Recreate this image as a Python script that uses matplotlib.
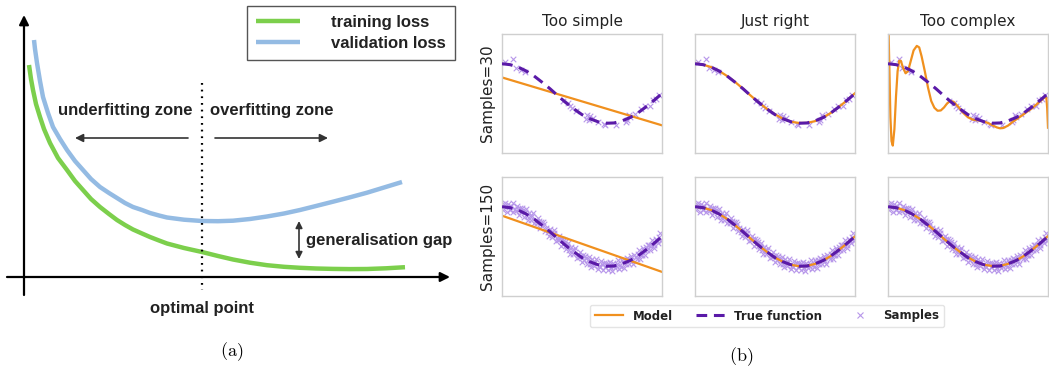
import matplotlib
matplotlib.use("Agg")
import matplotlib.pyplot as plt
from matplotlib.lines import Line2D

plt.rcParams["mathtext.fontset"] = "cm"

W, H = 1049, 371

# ---------------- panel (a): conceptual loss curves ----------------
# x = model complexity, y = loss (arbitrary units)
train_x = [5, 7, 9, 12, 16, 20, 26, 34, 43, 51, 59, 67, 76, 85, 93, 101, 109, 118, 126,
           135, 143, 160, 178, 194, 209, 226, 243, 260, 276, 292, 309, 326, 343, 362, 381]
train_y = [212, 198, 187, 173, 160, 148, 134, 119, 107, 96, 87, 78, 70, 63, 57, 52, 47.5, 43.5, 40,
           36.5, 33.5, 29, 25, 21, 17.5, 14.3, 11.8, 10.2, 9.2, 8.5, 8.1, 7.9, 8, 8.7, 9.8]
val_x = [10, 11, 13, 16, 19, 24, 29, 36, 43, 51, 59, 67, 76, 85, 93, 101, 109, 118, 126,
         135, 143, 160, 178, 194, 209, 226, 243, 260, 276, 292, 309, 326, 343, 360, 378]
val_y = [237, 228, 214, 196, 180, 164, 150, 138, 127, 116, 107, 98, 90, 84, 79, 74, 70, 67, 64,
         61.5, 59.5, 57.3, 56, 55.8, 56.3, 58, 60.5, 63.5, 67, 71, 75.3, 79.7, 84.3, 89.5, 95]
optimal_x = 178

# ---------------- panel (b): under/over-fitting example ----------------
col_titles = ["Too simple", "Just right", "Too complex"]
row_labels = ["Samples=30", "Samples=150"]

grid_x = [0.00, 0.05, 0.10, 0.15, 0.20, 0.25, 0.30, 0.35, 0.40, 0.45, 0.50,
          0.55, 0.60, 0.65, 0.70, 0.75, 0.80, 0.85, 0.90, 0.95, 1.00]
true_y = [1.00, 0.97, 0.89, 0.76, 0.59, 0.38, 0.16, -0.08, -0.31, -0.52, -0.71,
          -0.85, -0.95, -1.00, -0.99, -0.92, -0.81, -0.65, -0.45, -0.23, 0.00]

# samples, 30 points
s30_x = [0.020, 0.071, 0.087, 0.118, 0.143, 0.383, 0.415, 0.424, 0.438, 0.462,
         0.522, 0.529, 0.545, 0.549, 0.568, 0.603, 0.640, 0.646, 0.715, 0.778,
         0.781, 0.792, 0.799, 0.833, 0.870, 0.892, 0.926, 0.945, 0.964, 0.979]
s30_y = [1.05, 1.17, 0.87, 0.78, 0.73, -0.25, -0.33, -0.42, -0.50, -0.60,
         -0.86, -0.72, -0.90, -0.75, -0.83, -0.96, -1.02, -1.05, -1.07, -0.97,
         -0.88, -0.71, -0.80, -0.70, -0.52, -0.43, -0.42, -0.22, -0.18, -0.05]

# samples, 150 points
s150_x = [0.003, 0.009, 0.014, 0.020, 0.033, 0.040, 0.046, 0.052, 0.059, 0.066,
          0.071, 0.079, 0.085, 0.092, 0.098, 0.105, 0.111, 0.119, 0.124, 0.131,
          0.138, 0.144, 0.150, 0.157, 0.163, 0.171, 0.176, 0.184, 0.190, 0.196,
          0.203, 0.210, 0.216, 0.223, 0.229, 0.236, 0.243, 0.249, 0.255, 0.262,
          0.269, 0.275, 0.289, 0.295, 0.302, 0.308, 0.315, 0.322, 0.328, 0.335,
          0.341, 0.347, 0.354, 0.361, 0.367, 0.374, 0.381, 0.386, 0.393, 0.400,
          0.407, 0.413, 0.420, 0.426, 0.433, 0.440, 0.446, 0.452, 0.459, 0.466,
          0.473, 0.479, 0.485, 0.492, 0.499, 0.505, 0.512, 0.519, 0.525, 0.531,
          0.538, 0.545, 0.552, 0.558, 0.564, 0.571, 0.578, 0.584, 0.590, 0.597,
          0.604, 0.611, 0.617, 0.623, 0.630, 0.637, 0.643, 0.650, 0.657, 0.663,
          0.669, 0.676, 0.683, 0.689, 0.696, 0.702, 0.709, 0.716, 0.722, 0.729,
          0.735, 0.742, 0.749, 0.755, 0.762, 0.768, 0.775, 0.782, 0.788, 0.795,
          0.801, 0.808, 0.815, 0.821, 0.828, 0.835, 0.841, 0.848, 0.855, 0.861,
          0.867, 0.874, 0.881, 0.887, 0.894, 0.901, 0.907, 0.914, 0.920, 0.927,
          0.934, 0.940, 0.947, 0.953, 0.960, 0.967, 0.973, 0.980, 0.987, 0.994]
s150_y = [1.08, 0.88, 1.03, 1.14, 0.82, 1.09, 0.99, 0.88, 1.02, 1.13,
          0.81, 0.91, 0.85, 1.04, 0.94, 0.73, 0.95, 0.81, 0.95, 0.89,
          0.67, 0.81, 0.91, 0.69, 0.55, 0.80, 0.69, 0.56, 0.68, 0.78,
          0.45, 0.53, 0.46, 0.63, 0.51, 0.29, 0.50, 0.35, 0.48, 0.41,
          0.18, 0.30, 0.16, 0.01, 0.26, 0.13, 0.00, 0.11, 0.21, -0.14,
          -0.06, -0.13, 0.03, -0.09, -0.31, -0.10, -0.26, -0.13, -0.20, -0.43,
          -0.31, -0.22, -0.45, -0.59, -0.34, -0.47, -0.60, -0.47, -0.38, -0.71,
          -0.63, -0.70, -0.52, -0.64, -0.85, -0.63, -0.78, -0.65, -0.71, -0.92,
          -0.79, -0.69, -0.91, -1.04, -0.77, -0.89, -1.00, -0.86, -0.75, -1.08,
          -0.98, -1.03, -0.84, -0.94, -1.13, -0.90, -1.03, -0.88, -0.92, -1.12,
          -0.97, -0.85, -1.05, -1.16, -0.88, -0.98, -1.07, -0.91, -0.79, -1.09,
          -0.97, -1.01, -0.80, -0.87, -1.05, -0.80, -0.91, -0.73, -0.76, -0.94,
          -0.78, -0.64, -0.81, -0.92, -0.61, -0.69, -0.77, -0.60, -0.45, -0.74,
          -0.61, -0.63, -0.40, -0.47, -0.63, -0.36, -0.46, -0.27, -0.29, -0.46,
          -0.28, -0.13, -0.30, -0.39, -0.08, -0.15, -0.22, -0.03, 0.12, -0.16]

# fitted models
simple30_x, simple30_y = [0.0, 1.0], [0.54, -1.07]
simple150_x, simple150_y = [0.0, 1.0], [0.70, -1.19]
right30_y = [1.01, 0.97, 0.89, 0.76, 0.59, 0.39, 0.16, -0.08, -0.31, -0.52, -0.70,
             -0.85, -0.95, -0.99, -0.99, -0.93, -0.81, -0.65, -0.45, -0.23, 0.01]
right150_y = [1.00, 0.97, 0.89, 0.76, 0.59, 0.38, 0.16, -0.08, -0.31, -0.52, -0.71,
              -0.85, -0.95, -1.00, -0.99, -0.92, -0.81, -0.65, -0.45, -0.23, 0.00]
complex150_y = [1.00, 0.97, 0.89, 0.76, 0.59, 0.39, 0.16, -0.08, -0.31, -0.52, -0.70,
                -0.85, -0.95, -0.99, -0.99, -0.92, -0.81, -0.65, -0.45, -0.23, 0.01]
complex30_x = [0.000, 0.008, 0.015, 0.022, 0.030, 0.040, 0.050, 0.060, 0.070, 0.080,
               0.095, 0.110, 0.125, 0.140, 0.160, 0.180, 0.195, 0.210, 0.230, 0.250,
               0.270, 0.290, 0.310, 0.330, 0.350, 0.370, 0.390, 0.410, 0.440, 0.470,
               0.500, 0.530, 0.560, 0.590, 0.620, 0.650, 0.680, 0.700, 0.720, 0.750,
               0.780, 0.810, 0.840, 0.870, 0.900, 0.930, 0.960, 0.980, 0.990, 0.995, 1.000]
complex30_y = [3.00, 1.00, -0.80, -1.60, -1.75, -1.20, -0.10, 0.75, 1.10, 1.10,
               0.85, 0.68, 0.75, 1.05, 1.45, 1.60, 1.55, 1.25, 0.75, 0.20,
               -0.25, -0.48, -0.58, -0.57, -0.47, -0.33, -0.25, -0.28, -0.45, -0.65,
               -0.80, -0.88, -0.90, -0.93, -0.98, -1.06, -1.14, -1.17, -1.16, -1.08,
               -0.95, -0.84, -0.73, -0.61, -0.50, -0.36, -0.22, -0.12, -0.15, -0.50, -1.15]

GREEN = "#7ccf4c"
BLUE = "#94bbe3"
ORANGE = "#f0901e"
PURPLE = "#5a1aa8"
LIGHT = "#b797ea"
TXT = "#222222"

fig = plt.figure(figsize=(W / 100, H / 100), dpi=100)

# ---- panel (a) ----
ax = fig.add_axes([0, 0, 470 / W, 1])
ax.set_xlim(-24, 446)
ax.set_ylim(-94, 277)
ax.axis("off")

ax.plot(train_x, train_y, color=GREEN, lw=3.2, solid_capstyle="butt",
        solid_joinstyle="round", label="training loss")
ax.plot(val_x, val_y, color=BLUE, lw=3.2, solid_capstyle="butt",
        solid_joinstyle="round", label="validation loss")

axis_arrow = dict(arrowstyle="-|>", color="black", lw=1.6, mutation_scale=14, shrinkA=0, shrinkB=0)
ax.annotate("", xy=(0, 262), xytext=(0, -18), arrowprops=axis_arrow)
ax.annotate("", xy=(426, 0), xytext=(-17, 0), arrowprops=axis_arrow)
ax.plot([optimal_x, optimal_x], [194, -13], color="black", lw=1.6, ls=(0, (0.8, 2.2)))

zone_arrow = dict(arrowstyle="-|>", color="#333333", lw=1.2, mutation_scale=12, shrinkA=0, shrinkB=0)
ax.annotate("", xy=(51, 139), xytext=(164, 139), arrowprops=zone_arrow)
ax.annotate("", xy=(304, 139), xytext=(191, 139), arrowprops=zone_arrow)
ax.annotate("", xy=(275, 56), xytext=(275, 18),
            arrowprops=dict(arrowstyle="<|-|>", color="#333333", lw=1.2, mutation_scale=10,
                            shrinkA=0, shrinkB=0))

tfont = dict(family="Liberation Sans", weight="bold", size=12, color=TXT)
ax.text(101, 166, "underfitting zone", ha="center", va="center", **tfont)
ax.text(248, 166, "overfitting zone", ha="center", va="center", **tfont)
ax.text(282, 36, "generalisation gap", ha="left", va="center", **tfont)
ax.text(optimal_x, -32, "optimal point", ha="center", va="center", **tfont)
ax.text(208, -75, r"$\mathrm{(a)}$", ha="center", va="center", fontsize=13)

leg = ax.legend(loc="upper left", bbox_to_anchor=(247 / W, 1 - 6 / H),
                bbox_transform=fig.transFigure, borderaxespad=0, fancybox=False,
                prop=dict(family="Liberation Sans", weight="bold", size=12),
                handlelength=2.6, handletextpad=1.9, labelspacing=0.35,
                borderpad=0.55, framealpha=1)
leg.get_frame().set_edgecolor("#555555")
leg.get_frame().set_linewidth(1.0)
for t in leg.get_texts():
    t.set_color(TXT)

# ---- panel (b) ----
col_left = [502, 695, 888]
row_top = [34, 177]
box_w, box_h = 160, 119

models = [
    [(simple30_x, simple30_y), (grid_x, right30_y), (complex30_x, complex30_y)],
    [(simple150_x, simple150_y), (grid_x, right150_y), (grid_x, complex150_y)],
]
samples = [(s30_x, s30_y), (s150_x, s150_y)]

for r in range(2):
    for c in range(3):
        bx = fig.add_axes([col_left[c] / W, 1 - (row_top[r] + box_h) / H, box_w / W, box_h / H])
        sx, sy = samples[r]
        bx.scatter(sx, sy, marker="x", s=16, color=LIGHT, linewidths=0.8, zorder=1)
        mx, my = models[r][c]
        bx.plot(mx, my, color=ORANGE, lw=1.6, zorder=2)
        bx.plot(grid_x, true_y, color=PURPLE, lw=2.2, ls=(0, (3.5, 2.2)), zorder=3)
        bx.set_xlim(0, 1)
        bx.set_ylim(-2, 2)
        bx.set_xticks([])
        bx.set_yticks([])
        for sp in bx.spines.values():
            sp.set_color("#cfcfcf")
            sp.set_linewidth(1.0)
        if r == 0:
            bx.set_title(col_titles[c], fontsize=11, color=TXT, pad=6)
        if c == 0:
            bx.set_ylabel(row_labels[r], fontsize=11, color=TXT, labelpad=5)

handles = [
    Line2D([], [], color=ORANGE, lw=1.6),
    Line2D([], [], color=PURPLE, lw=2.2, ls=(0, (3.5, 2.2))),
    Line2D([], [], color=LIGHT, marker="x", ls="none", markersize=4, markeredgewidth=0.8),
]
leg_b = fig.legend(handles, ["Model", "True function", "Samples"], loc="center",
                   bbox_to_anchor=(767 / W, 1 - 316 / H), ncol=3,
                   prop=dict(weight="bold", size=8.5), handlelength=2.4,
                   columnspacing=2.0, borderpad=0.4, framealpha=1)
leg_b.get_frame().set_edgecolor("#e4e4e4")
for t in leg_b.get_texts():
    t.set_color(TXT)

fig.text(741 / W, 1 - 357 / H, r"$\mathrm{(b)}$", ha="center", va="center", fontsize=13)

fig.savefig("out.png", dpi=100)
